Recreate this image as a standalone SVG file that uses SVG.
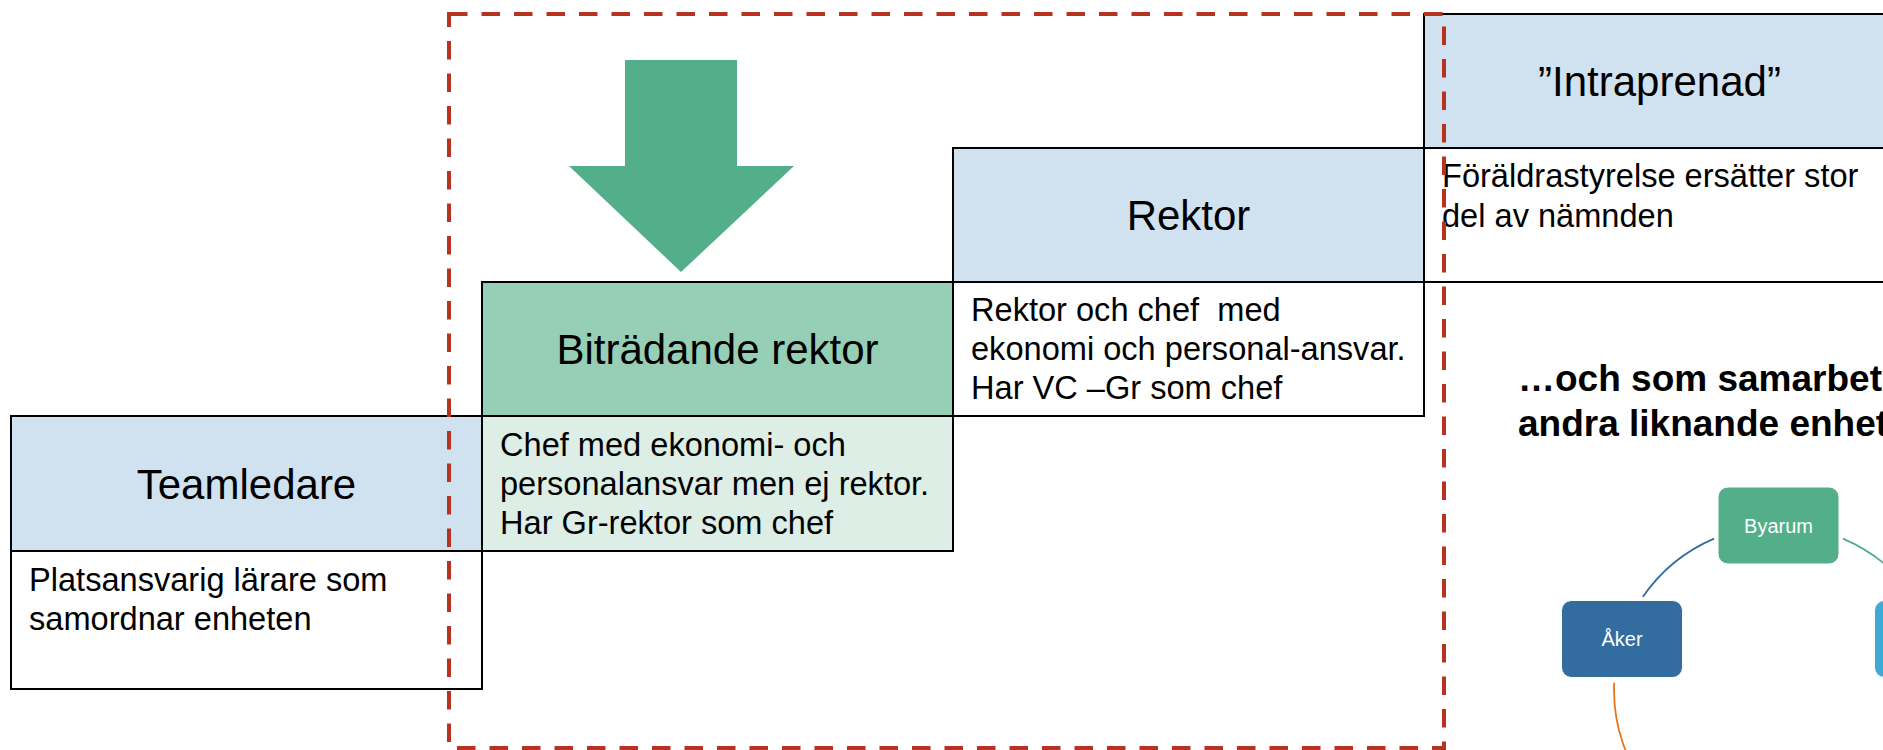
<svg xmlns="http://www.w3.org/2000/svg" width="1883" height="750" viewBox="0 0 1883 750">
<style>
.box{stroke:#000;stroke-width:2}
.hdr{fill:#D0E2F0}
.hdrg{fill:#96CFB6}
.bodyw{fill:#FFFFFF}
.bodyg{fill:#DCEEE5}
.title{font-family:"Liberation Sans",Arial,sans-serif;font-size:42px;fill:#000;text-anchor:middle}
.txt{font-family:"Liberation Sans",Arial,sans-serif;font-size:32.6px;fill:#000}
.bold{font-family:"Liberation Sans",Arial,sans-serif;font-size:37px;font-weight:bold;fill:#000}
.node{stroke:#FFFFFF;stroke-width:1}
.ntxt{font-family:"Liberation Sans",Arial,sans-serif;font-size:20px;fill:#FFFFFF;text-anchor:middle}
.arc{fill:none;stroke-width:1.8}
</style>
<rect width="1883" height="750" fill="#FFFFFF"/>

<g id="teamledare">
<rect class="box hdr" x="11" y="416" width="471" height="135"/>
<rect class="box bodyw" x="11" y="551" width="471" height="138"/>
<text class="title" x="246.5" y="498.5">Teamledare</text>
<text class="txt" x="29" y="590.5">Platsansvarig lärare som</text>
<text class="txt" x="29" y="630">samordnar enheten</text>
</g>

<g id="bitradande">
<rect class="box hdrg" x="482" y="282" width="471" height="134"/>
<rect class="box bodyg" x="482" y="416" width="471" height="135"/>
<text class="title" x="717.5" y="364">Biträdande rektor</text>
<text class="txt" x="500" y="456">Chef med ekonomi- och</text>
<text class="txt" x="500" y="495">personalansvar men ej rektor.</text>
<text class="txt" x="500" y="534">Har Gr-rektor som chef</text>
</g>

<g id="rektor">
<rect class="box hdr" x="953" y="148" width="471" height="134"/>
<rect class="box bodyw" x="953" y="282" width="471" height="134"/>
<text class="title" x="1188.5" y="229.5">Rektor</text>
<text class="txt" x="971" y="321" xml:space="preserve">Rektor och chef  med</text>
<text class="txt" x="971" y="360">ekonomi och personal-ansvar.</text>
<text class="txt" x="971" y="399">Har VC –Gr som chef</text>
</g>

<g id="intraprenad">
<rect class="box hdr" x="1424" y="14" width="480" height="134"/>
<rect class="box bodyw" x="1424" y="148" width="480" height="134"/>
<text class="title" x="1659.5" y="95.5">”Intraprenad”</text>
<text class="txt" x="1442" y="187">Föräldrastyrelse ersätter stor</text>
<text class="txt" x="1442" y="226.5">del av nämnden</text>
</g>

<g id="arrow">
<polygon points="625,60 737,60 737,166 794,166 681,272 569,166 625,166" fill="#52AF89"/>
</g>

<g id="heading">
<text class="bold" x="1518" y="391">…och som samarbet</text>
<text class="bold" x="1518" y="436">andra liknande enhet</text>
</g>

<g id="connectors">
<path class="arc" stroke="#336DA0" d="M1714.1,538.6 A164.5,164.5 0 0 0 1642.9,596.8"/>
<path class="arc" stroke="#52AF89" d="M1842.9,538.6 A164.5,164.5 0 0 1 1921,607.8"/>
<path class="arc" stroke="#E8731A" d="M1614.2,682.7 A164.5,164.5 0 0 0 1652.5,795.7"/>
</g>

<g id="byarum">
<rect class="node" x="1718" y="487" width="121" height="77" rx="10" fill="#52AF89"/>
<text class="ntxt" x="1778.5" y="532.5">Byarum</text>
</g>

<g id="aker">
<rect class="node" x="1561.5" y="600.5" width="121" height="77" rx="10" fill="#336DA0"/>
<text class="ntxt" x="1622" y="646">Åker</text>
</g>

<g id="node3">
<rect class="node" x="1874.5" y="600.5" width="121" height="77" rx="10" fill="#41A9D6"/>
</g>

<g id="dashed-frame">
<rect x="449" y="14" width="995" height="734" fill="none" stroke="#B83220" stroke-width="4" stroke-dasharray="18.5 14"/>
</g>
</svg>
